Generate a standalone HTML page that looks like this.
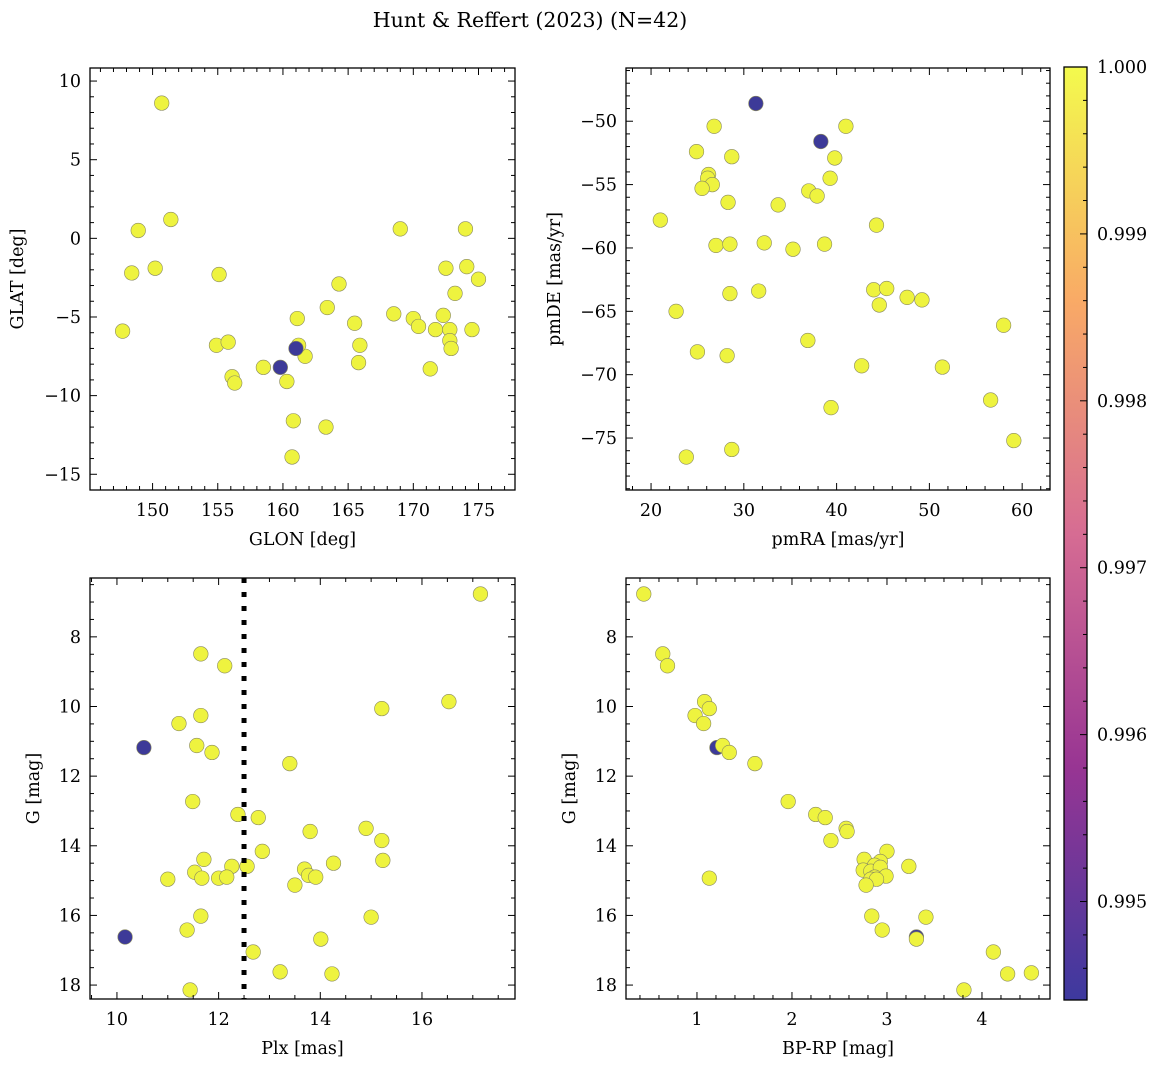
<!DOCTYPE html>
<html><head><meta charset="utf-8"><style>
body{margin:0;background:#fff;}
svg{display:block;font-family:"DejaVu Serif","Liberation Serif",serif;}
</style></head><body>
<svg id="fig" width="1161" height="1067" viewBox="0 0 1161 1067">
<defs><linearGradient id="cg" x1="0" y1="1" x2="0" y2="0">
<stop offset="0" stop-color="#3d399f"/><stop offset="0.25" stop-color="#983593"/>
<stop offset="0.5" stop-color="#d66c93"/><stop offset="0.75" stop-color="#f9aa66"/>
<stop offset="1" stop-color="#f3fa4d"/></linearGradient></defs>
<text x="530" y="27" font-size="20.5" text-anchor="middle">Hunt &amp; Reffert (2023) (N=42)</text>
</svg>
<script>
// Panel 1: GLON / GLAT
const glon=[150.7,151.4,148.9,148.4,150.2,147.7,155.1,154.9,155.8,156.1,156.3,158.5,160.3,160.8,160.7,161.1,161.7,164.3,163.4,163.3,165.5,165.9,165.8,168.5,169.0,170.0,170.4,171.3,171.7,172.3,172.5,172.8,172.8,172.9,173.2,174.0,174.1,174.5,175.0,161.2,159.8,161.0];
const glat=[8.6,1.2,0.5,-2.2,-1.9,-5.9,-2.3,-6.8,-6.6,-8.8,-9.2,-8.2,-9.1,-11.6,-13.9,-5.1,-7.5,-2.9,-4.4,-12.0,-5.4,-6.8,-7.9,-4.8,0.6,-5.1,-5.6,-8.3,-5.8,-4.9,-1.9,-5.8,-6.5,-7.0,-3.5,0.6,-1.8,-5.8,-2.6,-6.8,-8.2,-7.0];
const prob1=[1,1,1,1,1,1,1,1,1,1,1,1,1,1,1,1,1,1,1,1,1,1,1,1,1,1,1,1,1,1,1,1,1,1,1,1,1,1,1,1,0.9944,0.9944];
// Panel 2: pmRA / pmDE
const pmra=[26.8,24.9,28.7,41.0,39.8,39.3,37.0,37.9,26.2,26.1,26.6,25.5,28.3,33.7,21.0,44.3,27.0,28.5,32.2,35.3,38.7,31.6,28.5,44.0,45.4,44.6,47.6,49.2,22.7,58.0,25.0,28.2,36.9,42.7,51.4,56.6,39.4,28.7,23.8,59.1,31.3,38.3];
const pmde=[-50.4,-52.4,-52.8,-50.4,-52.9,-54.5,-55.5,-55.9,-54.2,-54.5,-55.0,-55.3,-56.4,-56.6,-57.8,-58.2,-59.8,-59.7,-59.6,-60.1,-59.7,-63.4,-63.6,-63.3,-63.2,-64.5,-63.9,-64.1,-65.0,-66.1,-68.2,-68.5,-67.3,-69.3,-69.4,-72.0,-72.6,-75.9,-76.5,-75.2,-48.6,-51.6];
const prob2=[1,1,1,1,1,1,1,1,1,1,1,1,1,1,1,1,1,1,1,1,1,1,1,1,1,1,1,1,1,1,1,1,1,1,1,1,1,1,1,1,0.9944,0.9944];
// Panel 3: Plx / G
const plx=[17.15,11.65,12.12,16.53,15.21,11.65,11.22,11.57,11.87,13.40,11.49,12.38,12.78,14.90,13.80,15.21,12.86,11.71,11.53,12.26,12.56,14.26,13.69,15.23,11.00,11.67,12.00,12.16,13.77,13.91,13.50,11.65,15.00,11.38,14.01,12.68,13.21,14.23,11.44,10.53,10.16];
const gmag3=[6.77,8.49,8.83,9.86,10.06,10.26,10.49,11.12,11.32,11.64,12.73,13.10,13.19,13.50,13.59,13.85,14.16,14.39,14.76,14.59,14.59,14.50,14.67,14.42,14.96,14.93,14.93,14.90,14.85,14.90,15.13,16.02,16.05,16.42,16.68,17.05,17.62,17.68,18.14,11.18,16.62];
const prob3=[1,1,1,1,1,1,1,1,1,1,1,1,1,1,1,1,1,1,1,1,1,1,1,1,1,1,1,1,1,1,1,1,1,1,1,1,1,1,1,0.9944,0.9944];
const plxCut=[12.5];
// Panel 4: BP-RP / G
const bprp=[0.44,0.64,0.69,1.08,1.13,0.98,1.07,1.21,1.27,1.34,1.61,1.96,2.25,2.35,2.57,2.58,2.41,3.0,2.76,2.93,2.87,2.75,2.83,2.93,2.87,2.99,2.83,2.89,3.23,2.78,1.13,2.84,2.95,3.31,3.31,3.41,4.12,4.27,4.52,3.81];
const gmag4=[6.77,8.49,8.83,9.86,10.06,10.26,10.49,11.18,11.12,11.32,11.64,12.73,13.10,13.19,13.50,13.59,13.85,14.16,14.39,14.45,14.56,14.70,14.73,14.62,14.90,14.87,14.96,14.96,14.59,15.13,14.93,16.02,16.42,16.62,16.68,16.05,17.05,17.68,17.65,18.14];
const prob4=[1,1,1,1,1,1,1,0.9944,1,1,1,1,1,1,1,1,1,1,1,1,1,1,1,1,1,1,1,1,1,1,1,1,1,0.9944,1,1,1,1,1,1];
// Colorbar
const cbTicks=[0.995,0.996,0.997,0.998,0.999,1.000];

const NS="http://www.w3.org/2000/svg";
const svg=document.getElementById('fig');
const FS=17.5;
function mk(tag,attrs,parent){const e=document.createElementNS(NS,tag);for(const k in attrs)e.setAttribute(k,attrs[k]);(parent||svg).appendChild(e);return e;}
function col(p){return p>0.999?'#eef33f':'#3d3a98';}
function panel(o){
  const g=mk('g',{});
  
  
  const sx=v=>o.x0+(v-o.xmin)/(o.xmax-o.xmin)*(o.x1-o.x0);
  const sy=o.yinv?(v=>o.y0+(v-o.ymin)/(o.ymax-o.ymin)*(o.y1-o.y0)):(v=>o.y1-(v-o.ymin)/(o.ymax-o.ymin)*(o.y1-o.y0));
  for(let i=0;i<o.xs.length;i++){
    const c=mk('circle',{cx:sx(o.xs[i]),cy:sy(o.ys[i]),r:7.3,fill:col(o.ps[i]),stroke:'#8a8a60','stroke-width':0.6},g);
    
    
  }
  if(o.vline){o.vline.forEach(v=>{const l=mk('line',{x1:sx(v),x2:sx(v),y1:o.y0,y2:o.y1,stroke:'#000','stroke-width':5,'stroke-dasharray':'5,9'},g);
    
    });}
  const fr=mk('rect',{x:o.x0,y:o.y0,width:o.x1-o.x0,height:o.y1-o.y0,fill:'none',stroke:'#000','stroke-width':1.3},g);
  
  
  const eps=1e-9;
  for(let v=Math.ceil(o.xmin/o.xminor)*o.xminor;v<=o.xmax+eps;v+=o.xminor){
    const isMaj=Math.abs(v/o.xmajor-Math.round(v/o.xmajor))<1e-6;const L=isMaj?7:4;const X=sx(v);
    mk('line',{x1:X,x2:X,y1:o.y1,y2:o.y1-L,stroke:'#000','stroke-width':1},g);
    mk('line',{x1:X,x2:X,y1:o.y0,y2:o.y0+L,stroke:'#000','stroke-width':1},g);
    if(isMaj){const t=mk('text',{x:X,y:o.y1+26,'font-size':FS,'text-anchor':'middle'},g);t.textContent=(+v.toFixed(6)).toString();
      
      }
  }
  for(let v=Math.ceil(Math.min(o.ymin,o.ymax)/o.yminor)*o.yminor;v<=Math.max(o.ymin,o.ymax)+eps;v+=o.yminor){
    const isMaj=Math.abs(v/o.ymajor-Math.round(v/o.ymajor))<1e-6;const L=isMaj?7:4;const Y=sy(v);
    mk('line',{x1:o.x0,x2:o.x0+L,y1:Y,y2:Y,stroke:'#000','stroke-width':1},g);
    mk('line',{x1:o.x1,x2:o.x1-L,y1:Y,y2:Y,stroke:'#000','stroke-width':1},g);
    if(isMaj){const r=Math.round(v);const t=mk('text',{x:o.x0-9,y:Y+6,'font-size':FS,'text-anchor':'end'},g);t.textContent=(r<0?'\u2212'+(-r):''+r);
      
      }
  }
  const xl=mk('text',{x:(o.x0+o.x1)/2,y:o.y1+55,'font-size':FS,'text-anchor':'middle'},g);xl.textContent=o.xlabel;
  
  
  const yx=o.ylx, yy=(o.y0+o.y1)/2;
  const yl=mk('text',{x:yx,y:yy,'font-size':FS,'text-anchor':'middle',transform:`rotate(-90 ${yx} ${yy})`},g);yl.textContent=o.ylabel;
  
  
}
panel({name:'glon-glat-panel',x0:90,x1:515,y0:68,y1:490,xmin:145.2,xmax:177.8,ymin:-16.0,ymax:10.83,xmajor:5,xminor:1,ymajor:5,yminor:1,xs:glon,ys:glat,ps:prob1,xlabel:'GLON [deg]',ylabel:'GLAT [deg]',ylx:23});
panel({name:'pm-panel',x0:626,x1:1050,y0:68,y1:490,xmin:17.3,xmax:63.0,ymin:-79.1,ymax:-45.8,xmajor:10,xminor:2,ymajor:5,yminor:1,xs:pmra,ys:pmde,ps:prob2,xlabel:'pmRA [mas/yr]',ylabel:'pmDE [mas/yr]',ylx:560});
panel({name:'plx-g-panel',x0:90,x1:515,y0:578,y1:999,xmin:9.47,xmax:17.83,ymin:6.31,ymax:18.4,yinv:true,xmajor:2,xminor:0.5,ymajor:2,yminor:0.5,xs:plx,ys:gmag3,ps:prob3,vline:plxCut,xlabel:'Plx [mas]',ylabel:'G [mag]',ylx:39});
panel({name:'cmd-panel',x0:626,x1:1050,y0:578,y1:999,xmin:0.253,xmax:4.716,ymin:6.31,ymax:18.4,yinv:true,xmajor:1,xminor:0.2,ymajor:2,yminor:0.5,xs:bprp,ys:gmag4,ps:prob4,xlabel:'BP-RP [mag]',ylabel:'G [mag]',ylx:575});
const cb=mk('g',{});


const cx0=1064,cx1=1087,cy0=67,cy1=1000,cmin=0.99441,cmax=1.0;
mk('rect',{x:cx0,y:cy0,width:cx1-cx0,height:cy1-cy0,fill:'url(#cg)',stroke:'#000','stroke-width':1.3},cb);
const cyv=v=>cy1-(v-cmin)/(cmax-cmin)*(cy1-cy0);
for(let k=Math.ceil(cmin/0.0002);k*0.0002<=cmax+1e-9;k++){const v=k*0.0002;const Y=cyv(v);const maj=k%5===0;
  mk('line',{x1:cx1,x2:cx1-(maj?7:4),y1:Y,y2:Y,stroke:'#000','stroke-width':1},cb);}
cbTicks.forEach(v=>{const t=mk('text',{x:cx1+10,y:cyv(v)+6,'font-size':FS},cb);t.textContent=v.toFixed(3);
  
  });
</script>
</body></html>
